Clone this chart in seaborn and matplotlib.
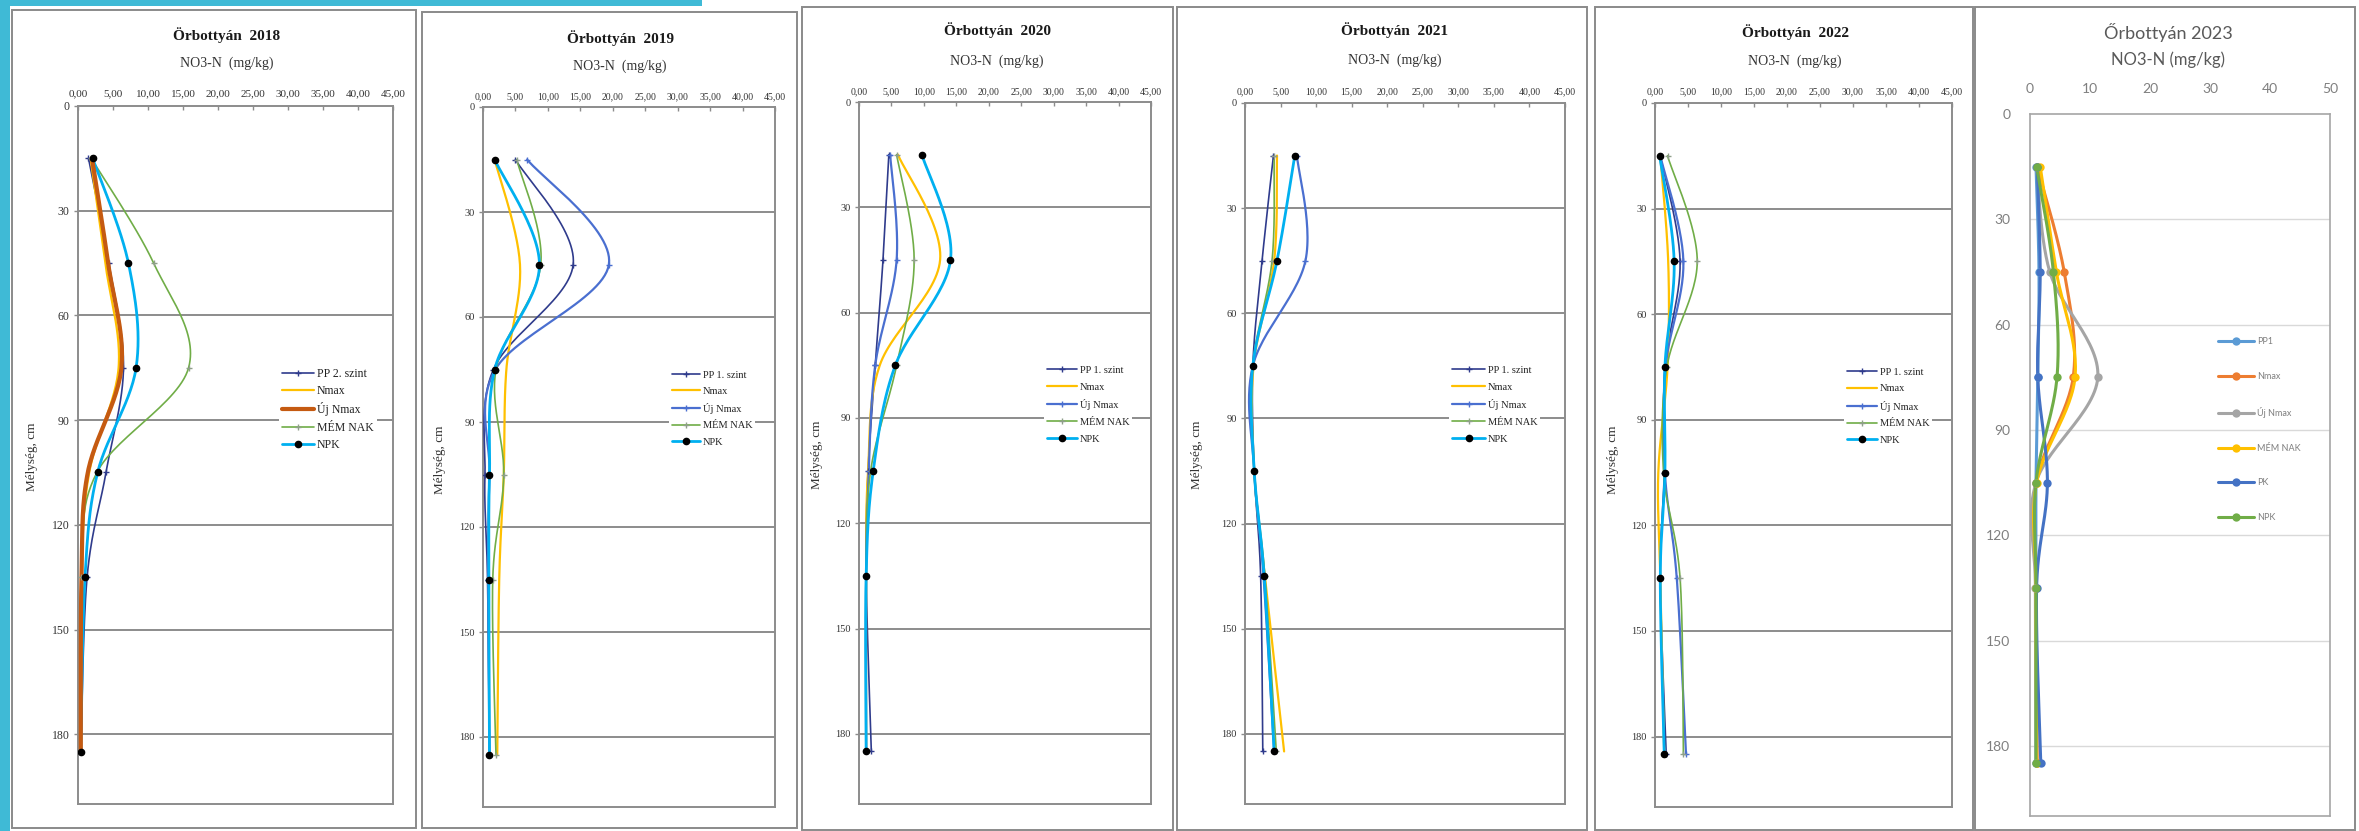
import numpy as np
import pandas as pd
import matplotlib
matplotlib.use("Agg")
import matplotlib.pyplot as plt
from matplotlib.lines import Line2D
from matplotlib.patches import Rectangle
from matplotlib.ticker import FuncFormatter
import seaborn as sns

W, H = 2359, 831

# sampling depths (cm)
depth_cm = [15, 45, 75, 105, 135, 185]

# NO3-N (mg/kg) by treatment and year
pp_2018     = [1.5, 4.4, 6.5, 4.0, 1.3, 0.4]
nmax_2018   = [1.8, 3.9, 5.8, 1.6, 0.5, 0.4]
ujnmax_2018 = [2.0, 4.3, 6.2, 1.4, 0.5, 0.4]
mem_2018    = [1.9, 10.8, 15.8, 2.7, 0.5, 0.4]
npk_2018    = [2.1, 7.2, 8.3, 2.8, 1.0, 0.4]

pp_2019     = [5.0, 13.9, 1.6, 0.3, 0.7, 1.0]
nmax_2019   = [1.8, 5.7, 3.6, 3.2, 2.5, 2.2]
ujnmax_2019 = [6.8, 19.4, 1.9, 1.0, 0.8, 1.0]
mem_2019    = [5.2, 8.9, 2.0, 3.2, 1.5, 2.0]
npk_2019    = [1.8, 8.7, 1.8, 1.0, 0.9, 1.0]

pp_2020     = [4.6, 3.7, 2.5, 1.4, 1.1, 1.9]
nmax_2020   = [6.0, 12.5, 3.2, 1.4, 1.1, 1.1]
ujnmax_2020 = [4.8, 5.8, 2.5, 1.5, 1.1, 1.1]
mem_2020    = [5.8, 8.5, 5.8, 1.8, 1.1, 1.1]
npk_2020    = [9.7, 14.1, 5.6, 2.2, 1.1, 1.1]

pp_2021     = [4.0, 2.4, 1.1, 1.3, 2.2, 2.5]
nmax_2021   = [4.5, 4.1, 1.2, 1.3, 2.8, 5.5]
ujnmax_2021 = [7.3, 8.5, 1.1, 1.3, 2.6, 4.1]
mem_2021    = [4.1, 3.8, 1.1, 1.3, 2.8, 4.4]
npk_2021    = [7.0, 4.5, 1.1, 1.3, 2.7, 4.1]

pp_2022     = [0.8, 3.8, 1.5, 1.4, 0.8, 1.7]
nmax_2022   = [0.8, 2.0, 1.9, 0.5, 0.8, 1.4]
ujnmax_2022 = [0.8, 4.3, 1.6, 1.5, 3.3, 4.7]
mem_2022    = [1.9, 6.4, 1.8, 1.3, 3.8, 4.3]
npk_2022    = [0.7, 2.9, 1.5, 1.5, 0.8, 1.4]

pp1_2023    = [1.0, 1.5, 1.3, 1.0, 1.0, 1.0]
nmax_2023   = [1.2, 5.7, 7.2, 1.0, 1.0, 1.2]
ujnmax_2023 = [1.1, 3.3, 11.3, 1.0, 0.9, 1.0]
mem_2023    = [1.7, 4.4, 7.5, 1.1, 1.0, 1.1]
pk_2023     = [1.2, 1.7, 1.3, 2.9, 1.1, 1.8]
npk_2023    = [1.1, 3.9, 4.5, 1.0, 1.0, 1.0]

labels_old = ["PP 1. szint", "Nmax", "Új Nmax", "MÉM NAK", "NPK"]
labels_2023 = ["PP1", "Nmax", "Új Nmax", "MÉM NAK", "PK", "NPK"]

sns.set_style("white")
plt.rcParams["font.family"] = ["Liberation Serif", "DejaVu Serif"]

fig = plt.figure(figsize=(W / 100, H / 100), dpi=100)
fig.patch.set_facecolor("white")


def px_axes(l, t, r, b):
    return fig.add_axes([l / W, 1 - b / H, (r - l) / W, (b - t) / H], zorder=2)


def frame(l, t, r, b, color="#8a8a8a", lw=1.4):
    fig.patches.append(Rectangle((l / W, 1 - b / H), (r - l) / W, (b - t) / H,
                                 transform=fig.transFigure, facecolor="white",
                                 edgecolor=color, linewidth=lw, zorder=-2))


def smooth_curve(xs, ys, n=30):
    """Bezier smoothing through the points (Excel-style smoothed line)."""
    P = np.column_stack([xs, ys]).astype(float)
    m = len(P)
    out = [P[0]]
    t = np.linspace(0, 1, n)[1:, None]
    for i in range(m - 1):
        p0 = P[i - 1] if i > 0 else P[i]
        p3 = P[i + 2] if i + 2 < m else P[i + 1]
        p1, p2 = P[i], P[i + 1]
        c1 = p1 + (p2 - p0) / 6
        c2 = p2 - (p3 - p1) / 6
        seg = (1 - t) ** 3 * p1 + 3 * (1 - t) ** 2 * t * c1 + 3 * (1 - t) * t ** 2 * c2 + t ** 3 * p2
        out.extend(seg)
    return np.array(out)


def draw_series(ax, values, color, lw, marker=None, mcolor=None, ms=4, mew=1.0, zorder=3):
    curve = smooth_curve(values, depth_cm)
    df = pd.DataFrame({"v": curve[:, 0], "d": curve[:, 1]})
    sns.lineplot(data=df, x="v", y="d", sort=False, estimator=None, ax=ax,
                 color=color, linewidth=lw, zorder=zorder, legend=False)
    if marker:
        ax.plot(values, depth_cm, linestyle="none", marker=marker, ms=ms,
                color=mcolor or color, mec=mcolor or color, mew=mew, zorder=zorder + 1)
    return Line2D([], [], color=color, lw=lw, marker=marker, ms=ms,
                  mfc=mcolor or color, mec=mcolor or color, mew=mew)


def comma_fmt(v, pos):
    return f"{v:.2f}".replace(".", ",")


def place_legend(ax, handles, labels, hx, tx, y0, row, fs, color="#222222", family=None):
    fs_px = fs * 100 / 72
    hl = (tx - hx - 3) / fs_px
    pad = 0.25
    prop = {"size": fs}
    if family:
        prop["family"] = family
    leg = ax.legend(handles, labels, loc="upper left",
                    bbox_to_anchor=((hx - pad * fs_px) / W, 1 - (y0 - 0.62 * fs_px - pad * fs_px) / H),
                    bbox_transform=fig.transFigure, frameon=True, facecolor="white",
                    edgecolor="none", framealpha=1, fancybox=False, borderpad=pad,
                    borderaxespad=0, handlelength=hl, handletextpad=3 / fs_px,
                    labelspacing=(row - 1.2 * fs_px) / fs_px, prop=prop)
    for t in leg.get_texts():
        t.set_color(color)
    leg.set_zorder(10)
    return leg


old_layout = {
    2018: dict(frame=(12, 10, 416, 828), plot=(78, 106, 393, 804), title=(227, 35), sub=(227, 63),
               tick_y=92, ylab=(32, 457), leg=(282, 317, 375, 19.5), fs_tick=8, fs_leg=8.5),
    2019: dict(frame=(422, 12, 797, 828), plot=(483, 107, 775, 807), title=(620, 38), sub=(620, 66),
               tick_y=95, ylab=(440, 460), leg=(672, 703, 377, 19.5), fs_tick=7, fs_leg=7.5),
    2020: dict(frame=(802, 7, 1173, 830), plot=(859, 102, 1151, 804), title=(997, 30), sub=(997, 61),
               tick_y=90, ylab=(817, 455), leg=(1047, 1080, 372, 20), fs_tick=7, fs_leg=7.5),
    2021: dict(frame=(1177, 7, 1587, 830), plot=(1245, 103, 1565, 804), title=(1395, 30), sub=(1395, 60),
               tick_y=90, ylab=(1197, 455), leg=(1452, 1488, 372, 20), fs_tick=7, fs_leg=7.5),
    2022: dict(frame=(1595, 7, 1973, 830), plot=(1655, 103, 1952, 807), title=(1795, 32), sub=(1795, 61),
               tick_y=90, ylab=(1613, 460), leg=(1847, 1880, 374, 19.8), fs_tick=7, fs_leg=7.5),
}

old_data = {
    2018: [pp_2018, nmax_2018, ujnmax_2018, mem_2018, npk_2018],
    2019: [pp_2019, nmax_2019, ujnmax_2019, mem_2019, npk_2019],
    2020: [pp_2020, nmax_2020, ujnmax_2020, mem_2020, npk_2020],
    2021: [pp_2021, nmax_2021, ujnmax_2021, mem_2021, npk_2021],
    2022: [pp_2022, nmax_2022, ujnmax_2022, mem_2022, npk_2022],
}

grid_c = "#8c8c8c"

# decorative cyan strips along the edges
fig.patches.append(Rectangle((0, 0), 10 / W, 1, transform=fig.transFigure,
                             facecolor="#3fbad6", edgecolor="none", zorder=-1))
fig.patches.append(Rectangle((0, 1 - 6 / H), 702 / W, 6 / H, transform=fig.transFigure,
                             facecolor="#3fbad6", edgecolor="none", zorder=-1))

for year, g in old_layout.items():
    frame(*g["frame"])
    ax = px_axes(*g["plot"])
    ax.set_facecolor("white")
    pp, nmax, ujn, mem, npk = old_data[year]
    handles = []
    handles.append(draw_series(ax, pp, "#2f3b8c", 1.2, marker="+", ms=4))
    handles.append(draw_series(ax, nmax, "#ffc000", 1.6))
    if year == 2018:
        handles.append(draw_series(ax, ujn, "#c55a11", 3.0, zorder=4))
    else:
        handles.append(draw_series(ax, ujn, "#4a6fd0", 1.6, marker="+", ms=4))
    handles.append(draw_series(ax, mem, "#70ad47", 1.2, marker="+", ms=4, mcolor="#8f9f8a"))
    handles.append(draw_series(ax, npk, "#00b0f0", 2.0, marker="o", mcolor="black", ms=4.5))

    ax.set_xlim(0, 45)
    ax.set_ylim(200, 0)
    ax.set_xticks(np.arange(0, 46, 5))
    ax.set_yticks(np.arange(0, 181, 30))
    ax.xaxis.set_major_formatter(FuncFormatter(comma_fmt))
    ax.xaxis.tick_top()
    ax.set_xlabel("")
    ax.set_ylabel("")
    ax.grid(False)
    for yv in range(30, 181, 30):
        ax.axhline(yv, color=grid_c, lw=1.4, zorder=1)
    for s in ax.spines.values():
        s.set_visible(True)
        s.set_color(grid_c)
        s.set_linewidth(1.4)
    top = g["plot"][1]
    pad_pt = max(top - g["tick_y"] - 6, 1) * 0.72
    ax.tick_params(axis="x", which="major", top=True, bottom=False, direction="in",
                   length=3, width=1, color=grid_c, pad=pad_pt, labelsize=g["fs_tick"],
                   labelcolor="#333333")
    ax.tick_params(axis="y", which="major", left=True, direction="out", length=3,
                   width=1, color=grid_c, pad=3, labelsize=g["fs_tick"] + 0.5,
                   labelcolor="#333333")

    lab = list(labels_old)
    if year == 2018:
        lab[0] = "PP 2. szint"
    hx, tx, y0, row = g["leg"]
    place_legend(ax, handles, lab, hx, tx, y0, row, g["fs_leg"])

    tx_, ty_ = g["title"]
    fig.text(tx_ / W, 1 - ty_ / H, f"Örbottyán  {year}", ha="center", va="center",
             fontsize=11, fontweight="bold", color="#1a1a1a")
    sx, sy = g["sub"]
    fig.text(sx / W, 1 - sy / H, "NO3-N  (mg/kg)", ha="center", va="center",
             fontsize=10, color="#333333")
    lx, ly = g["ylab"]
    fig.text(lx / W, 1 - ly / H, "Mélység, cm", ha="center", va="center",
             rotation=90, fontsize=9.5, color="#333333")

# 2023 panel (different chart style)
sans = ["Lato", "DejaVu Sans"]
frame(1975, 7, 2355, 830)
ax6 = px_axes(2030, 114, 2330, 816)
ax6.set_facecolor("white")
h6 = []
styles_2023 = [
    (pp1_2023, "#5b9bd5"),
    (nmax_2023, "#ed7d31"),
    (ujnmax_2023, "#a5a5a5"),
    (mem_2023, "#ffc000"),
    (pk_2023, "#4472c4"),
    (npk_2023, "#70ad47"),
]
for vals, col in styles_2023:
    h6.append(draw_series(ax6, vals, col, 2.2, marker="o", ms=6, mew=0))
ax6.set_xlim(0, 50)
ax6.set_ylim(200, 0)
ax6.set_xticks(np.arange(0, 51, 10))
ax6.set_yticks(np.arange(0, 181, 30))
ax6.xaxis.tick_top()
ax6.set_xlabel("")
ax6.set_ylabel("")
ax6.grid(False)
for yv in range(30, 181, 30):
    ax6.axhline(yv, color="#d9d9d9", lw=1.0, zorder=1)
for s in ax6.spines.values():
    s.set_visible(True)
    s.set_color("#a6a6a6")
    s.set_linewidth(1.2)
ax6.tick_params(axis="x", top=False, bottom=False, pad=(114 - 93 - 7) * 0.72,
                labelsize=10, labelcolor="#7f7f7f")
ax6.tick_params(axis="y", left=False, pad=(2030 - 2015) * 0.72, labelsize=10,
                labelcolor="#7f7f7f")
for t in ax6.get_xticklabels() + ax6.get_yticklabels():
    t.set_family(sans)
leg6 = place_legend(ax6, h6, labels_2023, 2218, 2257, 343, 36.6, 6.5, color="#7f7f7f", family=sans)
leg6.get_frame().set_alpha(0)
fig.text(2168 / W, 1 - 33 / H, "Őrbottyán 2023", ha="center", va="center",
         fontsize=13, color="#595959", family=sans)
fig.text(2168 / W, 1 - 60 / H, "NO3-N (mg/kg)", ha="center", va="center",
         fontsize=12, color="#595959", family=sans)

fig.savefig("out.png", dpi=100, facecolor="white")
